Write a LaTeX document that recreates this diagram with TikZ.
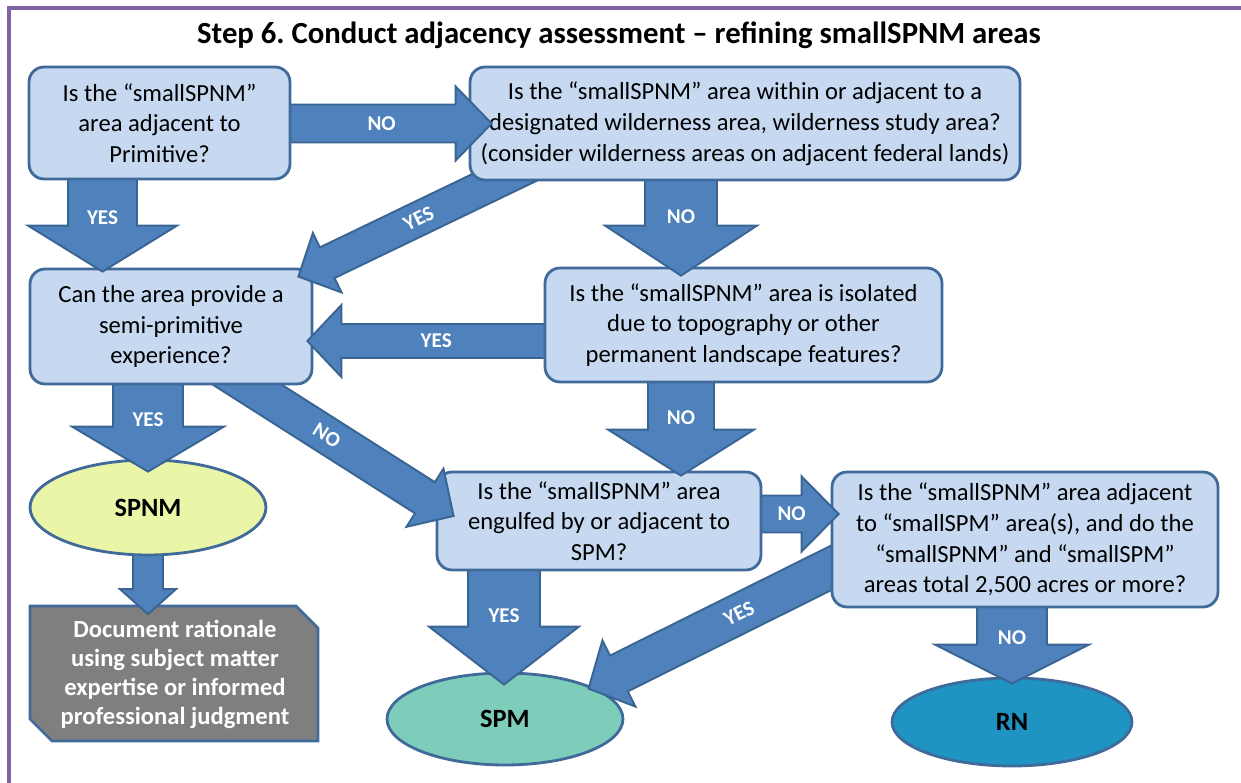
\documentclass[tikz,border=0pt]{standalone}
\usepackage{fontspec}
\setmainfont{Carlito}
\usetikzlibrary{calc,shapes.geometric}
\definecolor{boxfill}{HTML}{C6D9F1}
\definecolor{boxline}{HTML}{3F6A99}
\definecolor{arrowfill}{HTML}{4F81BD}
\definecolor{arrowline}{HTML}{3A6593}
\definecolor{spnmfill}{HTML}{EBF5A8}
\definecolor{spmfill}{HTML}{7ECDBB}
\definecolor{rnfill}{HTML}{1F93C2}
\definecolor{docfill}{HTML}{7F7F7F}
\definecolor{framecol}{HTML}{8064A2}

% block arrow: start, tip, shaft half width, head half width, head length, label, label angle, label pos
\newcommand{\blockarrow}[8]{%
  \coordinate (hb) at ($(#2)!#5!(#1)$);
  \draw[arrowbody] ($(#1)!#3!90:(#2)$) -- ($(hb)!#3!90:(#2)$) -- ($(hb)!#4!90:(#2)$) -- (#2)
    -- ($(hb)!#4!-90:(#2)$) -- ($(hb)!#3!-90:(#2)$) -- ($(#1)!#3!-90:(#2)$) -- cycle;
  \node[yesno, rotate=#7] at ($(#1)!#8!(#2)$) {#6};
}

\begin{document}
\frenchspacing
\begin{tikzpicture}[x=0.02cm,y=-0.02cm,
  question/.style={draw=boxline, fill=boxfill, line width=1.6pt, rounded corners=0.3cm,
    align=center, inner sep=0pt, font=\fontsize{14}{17.5}\selectfont},
  result/.style={ellipse, draw=boxline, line width=1.6pt, inner sep=0pt,
    font=\fontsize{15}{18}\selectfont\bfseries},
  docshape/.style={draw=boxline, fill=docfill, line width=1.6pt, line join=miter},
  doctext/.style={text=white, align=center, inner sep=0pt,
    minimum width=5.76cm, minimum height=2.7cm, font=\fontsize{14}{16.5}\selectfont\bfseries},
  arrowbody/.style={draw=arrowline, fill=arrowfill, line width=1.1pt, line join=miter},
  yesno/.style={text=white, inner sep=0pt, font=\fontsize{12}{14}\selectfont\bfseries}]
\useasboundingbox (0,0) rectangle (1241,783);

% frame and title
\draw[framecol, line width=1.8pt] (9,783) -- (9,8) -- (1241,8);
\node[font=\fontsize{17.5}{21}\selectfont\bfseries] (title) at (619,35) {Step 6. Conduct adjacency assessment – refining smallSPNM areas};

% end results
\node[result, fill=rnfill, minimum width=4.8cm, minimum height=1.76cm] (rn) at (1012,722) {RN};
\node[result, fill=spmfill, minimum width=4.72cm, minimum height=1.84cm] (spm) at (505,719) {SPM};
\draw[docshape] (30,606) -- (296,606) -- (318,628) -- (318,741) -- (52,741) -- (30,719) -- cycle;
\node[doctext] (doc) at (175,674) {Document rationale\\using subject matter\\expertise or informed\\professional judgment};

\coordinate (s_spnm) at (148,545); \coordinate (t_spnm) at ($(doc.north)+(-27,8)$);
\blockarrow{s_spnm}{t_spnm}{0.3cm}{0.56cm}{0.5cm}{}{0}{0.5}
\node[result, fill=spnmfill, minimum width=4.72cm, minimum height=1.9cm] (spnm) at (148,507.5) {SPNM};

% acres question
\coordinate (s_q6rn) at (1012,600); \coordinate (t_q6rn) at ($(rn.north)+(0,7)$);
\blockarrow{s_q6rn}{t_q6rn}{0.7cm}{1.54cm}{0.78cm}{NO}{0}{0.45}
\coordinate (s_q6spm) at (848,559.5); \coordinate (t_q6spm) at ($(spm)+(83.5,-30.4)$);
\blockarrow{s_q6spm}{t_q6spm}{0.4cm}{0.74cm}{0.68cm}{YES}{26}{0.42}
\node[question, minimum width=7.72cm, minimum height=2.7cm] (q6) at (1025,539.5) {Is the “smallSPNM” area adjacent\\to “smallSPM” area(s), and do the\\“smallSPNM” and “smallSPM”\\areas total 2,500 acres or more?};

% engulfed question
\coordinate (s_q5spm) at (504,562); \coordinate (t_q5spm) at ($(spm.north)+(-1,13)$);
\blockarrow{s_q5spm}{t_q5spm}{0.72cm}{1.5cm}{1.16cm}{YES}{0}{0.44}
\coordinate (s_q5q6) at (750,514); \coordinate (t_q5q6) at ($(q6.west)+(8,-25.5)$);
\blockarrow{s_q5q6}{t_q5q6}{0.37cm}{0.75cm}{0.74cm}{NO}{0}{0.47}
\node[question, minimum width=6.48cm, minimum height=1.96cm] (q5) at (599,521) {Is the “smallSPNM” area\\engulfed by or adjacent to\\SPM?};

% semi-primitive question
\coordinate (s_q3spnm) at (148,375); \coordinate (t_q3spnm) at ($(spnm.north)+(0,13)$);
\blockarrow{s_q3spnm}{t_q3spnm}{0.7cm}{1.52cm}{0.9cm}{YES}{0}{0.46}
\coordinate (s_q3q5) at (210,361); \coordinate (t_q3q5) at ($(q5.west)+(18,-5)$);
\blockarrow{s_q3q5}{t_q3q5}{0.37cm}{0.69cm}{0.68cm}{NO}{-32}{0.48}
\node[question, minimum width=5.64cm, minimum height=2.3cm] (q3) at (171,326.5) {Can the area provide a\\semi-primitive\\experience?};

% isolated question
\coordinate (s_q4q3) at (560,341); \coordinate (t_q4q3) at ($(q3.east)+(-6,14.5)$);
\blockarrow{s_q4q3}{t_q4q3}{0.34cm}{0.72cm}{0.68cm}{YES}{0}{0.49}
\coordinate (s_q4q5) at (681,375); \coordinate (t_q4q5) at ($(q5.north)+(82,5)$);
\blockarrow{s_q4q5}{t_q4q5}{0.66cm}{1.46cm}{0.92cm}{NO}{0}{0.42}
\node[question, minimum width=7.94cm, minimum height=2.28cm] (q4) at (743.5,325) {Is the “smallSPNM” area is isolated\\due to topography or other\\permanent landscape features?};

% wilderness question
\coordinate (s_q2q3) at (549,156); \coordinate (t_q2q3) at ($(q3.north east)+(-15,9)$);
\blockarrow{s_q2q3}{t_q2q3}{0.34cm}{0.66cm}{0.64cm}{YES}{26}{0.52}
\coordinate (s_q2q4) at (681,172); \coordinate (t_q2q4) at ($(q4.north)+(-62.5,9)$);
\blockarrow{s_q2q4}{t_q2q4}{0.72cm}{1.52cm}{1.0cm}{NO}{0}{0.43}
\node[question, minimum width=11cm, minimum height=2.26cm] (q2) at (745,123.5) {Is the “smallSPNM” area within or adjacent to a\\designated wilderness area, wilderness study area?\\(consider wilderness areas on adjacent federal lands)};

% primitive question
\coordinate (s_q1q2) at (280,123.5); \coordinate (t_q1q2) at ($(q2.west)+(23,0)$);
\blockarrow{s_q1q2}{t_q1q2}{0.38cm}{0.74cm}{0.72cm}{NO}{0}{0.48}
\coordinate (s_q1q3) at (102.5,170); \coordinate (t_q1q3) at ($(q3.north)+(-68.5,4)$);
\blockarrow{s_q1q3}{t_q1q3}{0.69cm}{1.49cm}{0.92cm}{YES}{0}{0.47}
\node[question, minimum width=5.22cm, minimum height=2.24cm] (q1) at (159.5,123) {Is the “smallSPNM”\\area adjacent to\\Primitive?};
\end{tikzpicture}
\end{document}
